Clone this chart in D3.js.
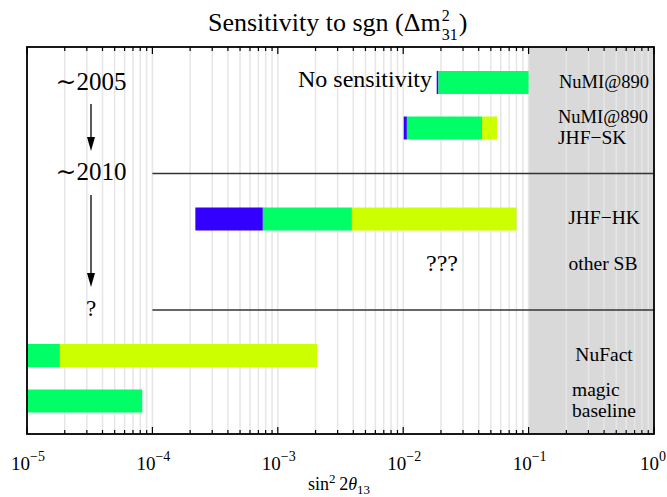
<!DOCTYPE html>
<html><head><meta charset="utf-8">
<script src="https://cdn.jsdelivr.net/npm/d3@7"></script>
<style>
html,body{margin:0;padding:0;background:#fff;}
svg{display:block;}
</style></head>
<body>
<svg id="chart" width="667" height="497"></svg>
<script>
// ---------- data ----------
const rowLabels = [["NuMI@890"], ["NuMI@890", "JHF\u2212SK"], ["JHF\u2212HK"], ["NuFact"], ["magic", "baseline"]];
const rowSlots = [1, 2, 4, 7, 8];
const labelAlign = ["middle", "start", "middle", "middle", "start"];
const blueRange   = [[0.0185, 0.0191], [0.0101, 0.0107], [2.2e-4, 7.6e-4], null, null];
const greenRange  = [[0.0191, 0.1], [0.0107, 0.0425], [7.6e-4, 3.9e-3], [1e-5, 1.83e-5], [1e-5, 8.3e-5]];
const yellowRange = [null, [0.0425, 0.056], [3.9e-3, 0.08], [1.83e-5, 2.06e-3], null];
const seriesColors = {blue: "#3300ff", green: "#00ff66", yellow: "#ccff00"};
const tickExponents = [-5, -4, -3, -2, -1, 0];
const separatorSlots = [3, 6];
const otherSBSlot = 5;
const disfavoredFrom = 0.1;

// ---------- layout ----------
const FONT = "'Liberation Serif', Tinos, 'Times New Roman', 'DejaVu Serif', serif";
const svg = d3.select("#chart");
const L = 27, R = 654, T = 47, B = 434;
const x = d3.scaleLog().domain([1e-5, 1]).range([L, R]);
const y = d3.scaleLinear().domain([0, 9]).range([37, 446.5]);
const barH = 23;

function txt(xx, yy, size, s, anchor) {
  return svg.append("text").attr("x", xx).attr("y", yy).attr("font-family", FONT)
    .attr("font-size", size).attr("text-anchor", anchor || "start").attr("fill", "#000").text(s);
}

svg.append("rect").attr("width", 667).attr("height", 497).attr("fill", "#fff");
// grey region
svg.append("rect").attr("x", x(disfavoredFrom)).attr("y", T)
  .attr("width", x(1) - x(disfavoredFrom)).attr("height", B - T).attr("fill", "#d9d9d9");

// gridlines
const gridVals = [];
for (let e = -5; e < 0; e++) for (let m = 1; m <= 9; m++) gridVals.push(m * Math.pow(10, e));
gridVals.push(1);
svg.append("g").selectAll("line").data(gridVals.filter(v => v > 1e-5 && v < 1)).join("line")
  .attr("x1", d => x(d)).attr("x2", d => x(d)).attr("y1", T).attr("y2", B)
  .attr("stroke", "#e6e6e6").attr("stroke-width", 1.5);

// bars
const segs = [];
rowSlots.forEach((s, i) => {
  [["blue", blueRange], ["green", greenRange], ["yellow", yellowRange]].forEach(([c, arr]) => {
    if (arr[i]) segs.push({slot: s, c, a: arr[i][0], b: arr[i][1]});
  });
});
svg.append("g").selectAll("rect").data(segs).join("rect")
  .attr("x", d => x(d.a)).attr("width", d => x(d.b) - x(d.a))
  .attr("y", d => y(d.slot) - barH / 2).attr("height", barH)
  .attr("fill", d => seriesColors[d.c]);

// separators
svg.append("g").selectAll("line").data(separatorSlots).join("line")
  .attr("x1", x(1e-4)).attr("x2", R).attr("y1", d => y(d)).attr("y2", d => y(d))
  .attr("stroke", "#333").attr("stroke-width", 1.5);

// frame
svg.append("rect").attr("x", L).attr("y", T).attr("width", R - L).attr("height", B - T)
  .attr("fill", "none").attr("stroke", "#000").attr("stroke-width", 1.8);

// ticks
const isMajor = v => Math.abs(Math.log10(v) - Math.round(Math.log10(v))) < 1e-9;
const tg = svg.append("g");
gridVals.forEach(v => {
  const len = isMajor(v) ? 7 : 4;
  tg.append("line").attr("x1", x(v)).attr("x2", x(v)).attr("y1", T).attr("y2", T + len).attr("stroke", "#000").attr("stroke-width", 1.2);
  tg.append("line").attr("x1", x(v)).attr("x2", x(v)).attr("y1", B).attr("y2", B - len).attr("stroke", "#000").attr("stroke-width", 1.2);
});

// tick labels
tickExponents.forEach(e => {
  const t = txt(x(Math.pow(10, e)) + (e === 0 ? -1 : 1), 470, 19, null, "middle");
  t.append("tspan").text("10");
  t.append("tspan").attr("dy", -9).attr("font-size", 14).text(e === 0 ? "0" : "\u2212" + (-e));
});

// axis title
const at = txt(339, 490, 18, null, "middle");
at.append("tspan").text("sin");
at.append("tspan").attr("dy", -7).attr("font-size", 13).text("2");
at.append("tspan").attr("dy", 7).text("\u20092");
at.append("tspan").attr("font-style", "italic").text("\u03b8");
at.append("tspan").attr("dy", 4).attr("font-size", 13).text("13");

// title
const tt = txt(208, 31, 26, "Sensitivity to sgn (\u0394m");
const tw = tt.node().getComputedTextLength();
txt(208 + tw + 1, 20.5, 16, "2");
txt(208 + tw + 1, 39.5, 16, "31");
txt(208 + tw + 18, 31, 26, ")");

// right labels
rowLabels.forEach((lines, i) => {
  const anchor = labelAlign[i];
  const xx = anchor === "middle" ? 604 : (i === 1 ? 558 : 572);
  const n = lines.length;
  lines.forEach((s, k) => {
    const fs = s.startsWith("NuMI") ? 18.5 : 19.5;
    txt(xx, y(rowSlots[i]) + 5 + (k - (n - 1) / 2) * 21, fs, s, anchor);
  });
});
txt(603, y(otherSBSlot) + 5, 19.5, "other SB", "middle");

// annotations
txt(432, 87, 24, "No sensitivity", "end");
txt(442, 271, 24, "???", "middle");
txt(91, 90, 25, "\u223c2005", "middle");
txt(91, 180, 25, "\u223c2010", "middle");
txt(91, 316, 23, "?", "middle");

function arrow(xx, y1, y2) {
  svg.append("line").attr("x1", xx).attr("x2", xx).attr("y1", y1).attr("y2", y2 - 12).attr("stroke", "#000").attr("stroke-width", 1.3);
  svg.append("path").attr("d", `M${xx - 4},${y2 - 14} L${xx + 4},${y2 - 14} L${xx},${y2} Z`).attr("fill", "#000");
}
arrow(91, 104, 151);
arrow(91, 195, 287);
</script>
</body></html>
